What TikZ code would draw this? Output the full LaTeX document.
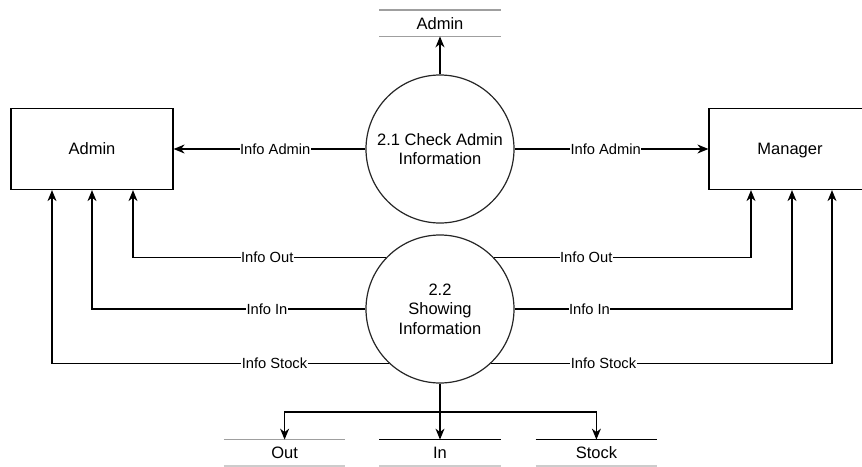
\documentclass[tikz,border=0pt]{standalone}
\usepackage{fontspec}
\setmainfont{Liberation Sans}
\usetikzlibrary{arrows.meta, positioning}
\tikzset{
  entity/.style={
    rectangle,
    draw=black,
    line width=1.2pt,
    minimum width=162pt,
    minimum height=81pt,
    text height=11.5pt,
    text depth=0pt,
    font=\fontsize{16.5}{19.5}\selectfont
  },
  process/.style={
    circle,
    draw=black!85,
    line width=1.2pt,
    minimum size=148pt,
    inner sep=0pt,
    align=center,
    font=\fontsize{16.5}{19.5}\selectfont
  },
  store/.style={
    rectangle,
    minimum width=121pt,
    minimum height=26pt,
    inner sep=0pt,
    font=\fontsize{16.5}{19.5}\selectfont
  },
  flowlabel/.style={fill=white, inner sep=0.5pt, font=\fontsize{14.7}{17}\selectfont},
  arrow/.style={-{Stealth[length=11pt, width=9pt, inset=3.5pt]}, line width=1.3pt}
}

\begin{document}
\begin{tikzpicture}[x=1pt, y=-1pt]
  \useasboundingbox (0,0) rectangle (862,466);
  \clip (0,0) rectangle (862,466);

  % external entities
  \node[entity] (admin) at (92,149) {Admin};
  \node[entity] (manager) at (790,149) {Manager};

  % processes
  \node[process] (check) at (440,149) {2.1 Check Admin\\Information};
  \node[process] (show) at (440,309) {2.2\\Showing\\Information};

  % data stores
  \node[store, above=38pt of check] (adminstore) {Admin};
  \node[store, below=56pt of show] (instore) {In};
  \node[store, left=34pt of instore] (outstore) {Out};
  \node[store, right=35pt of instore] (stockstore) {Stock};

  \draw[gray!75, line width=1.2pt] (adminstore.north west) -- (adminstore.north east);
  \draw[gray!75, line width=1.2pt] (adminstore.south west) -- (adminstore.south east);
  \draw[gray!75, line width=1.2pt] (outstore.north west) -- (outstore.north east);
  \draw[gray!40, line width=1.2pt] (outstore.south west) -- (outstore.south east);
  \draw[black, line width=1.2pt] (instore.north west) -- (instore.north east);
  \draw[gray!40, line width=1.2pt] (instore.south west) -- (instore.south east);
  \draw[black, line width=1.2pt] (stockstore.north west) -- (stockstore.north east);
  \draw[gray!40, line width=1.2pt] (stockstore.south west) -- (stockstore.south east);

  % flows of 2.1
  \draw[arrow] (check) -- (admin) node[flowlabel, pos=0.47] {Info Admin};
  \draw[arrow] (check) -- (manager) node[flowlabel, pos=0.47] {Info Admin};
  \draw[arrow] (check) -- (adminstore);

  % flows of 2.2
  \draw[arrow] (show.136) -| ([xshift=41pt]admin.south) node[flowlabel, pos=0.235] {Info Out};
  \draw[arrow] (show.west) -| (admin.south) node[flowlabel, pos=0.18] {Info In};
  \draw[arrow] (show.227) -| ([xshift=-40pt]admin.south) node[flowlabel, pos=0.17] {Info Stock};
  \draw[arrow] (show.44) -| ([xshift=-39pt]manager.south) node[flowlabel, pos=0.18] {Info Out};
  \draw[arrow] (show.east) -| ([xshift=2pt]manager.south) node[flowlabel, pos=0.135] {Info In};
  \draw[arrow] (show.313) -| ([xshift=42pt]manager.south) node[flowlabel, pos=0.165] {Info Stock};

  \coordinate (split) at (440,412);
  \draw[arrow] (show.south) -- (instore.north);
  \draw[arrow] (split) -| (outstore.north);
  \draw[arrow] (split) -| (stockstore.north);
\end{tikzpicture}
\end{document}
